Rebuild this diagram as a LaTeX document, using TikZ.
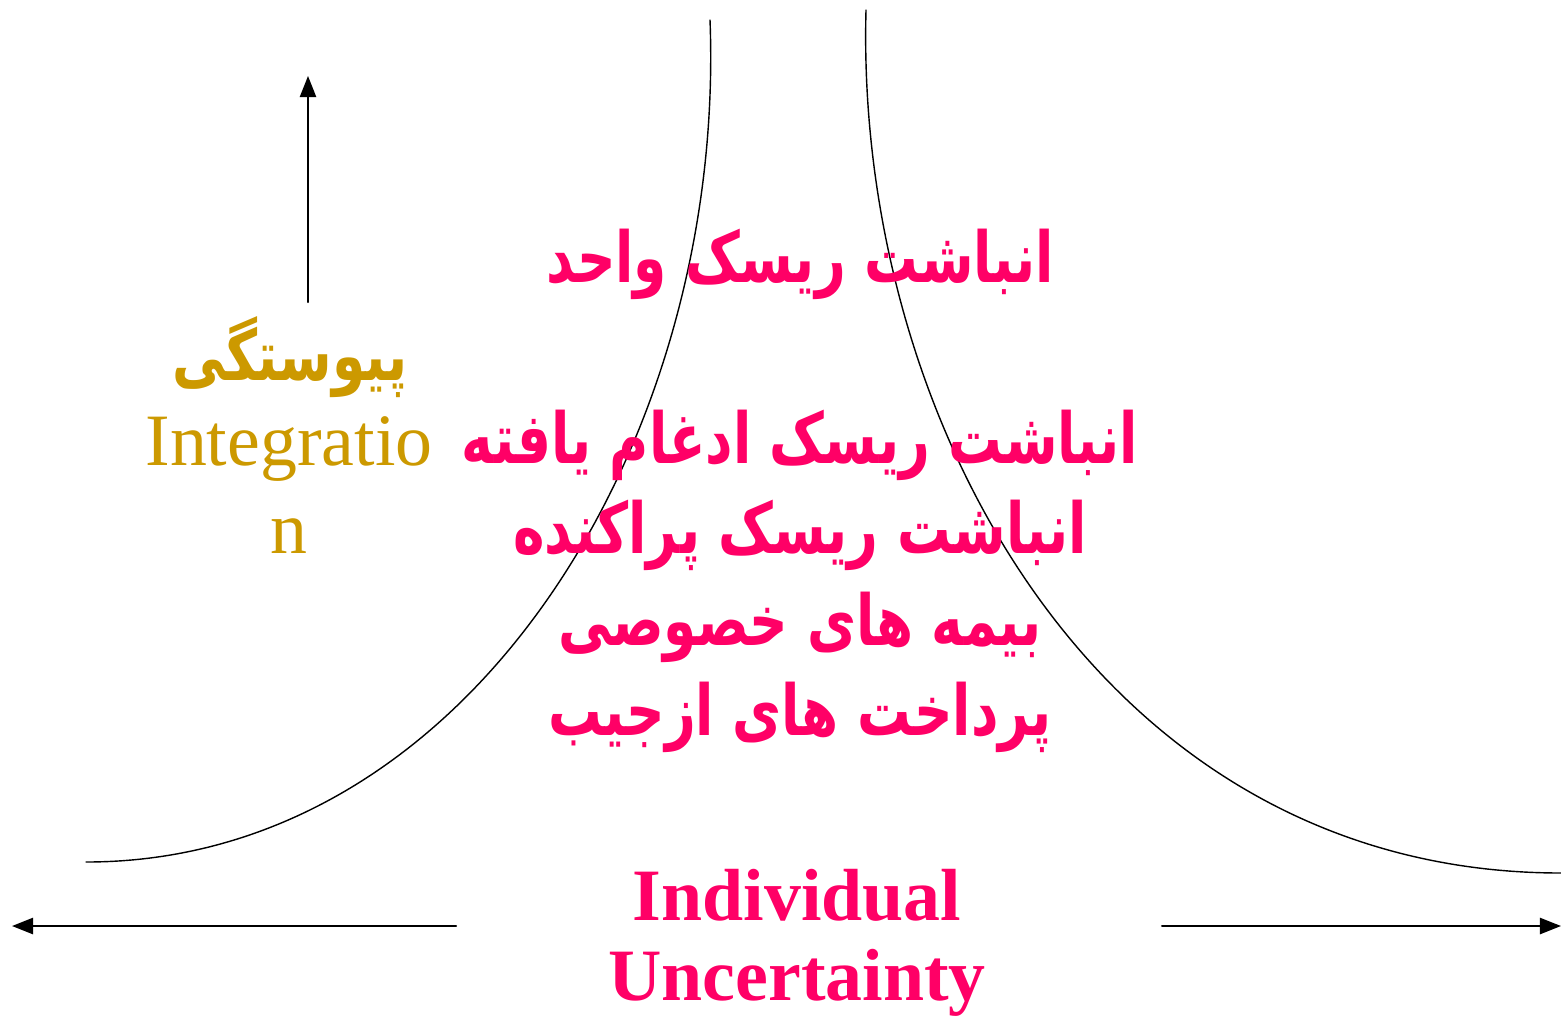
\documentclass[tikz,border=0pt]{standalone}
\usepackage{fontspec}
\setmainfont{Liberation Serif}
\newfontfamily\arabicfont[Script=Arabic,FakeStretch=0.76]{DejaVu Sans}
\TeXXeTstate=1
\usetikzlibrary{arrows.meta}
\definecolor{riskpink}{HTML}{FF0066}
\definecolor{integold}{HTML}{CC9900}
\tikzset{
  farsi/.style={text=riskpink,font=\arabicfont\bfseries\fontsize{20}{24}\selectfont,inner sep=0pt},
  latinpink/.style={text=riskpink,font=\bfseries\fontsize{21}{23}\selectfont,inner sep=0pt,anchor=base},
  latingold/.style={text=integold,font=\fontsize{21}{25}\selectfont,inner sep=0pt,anchor=base},
  axisline/.style={line width=0.6pt,-{Triangle[length=6pt,width=4.6pt]}},
}
\begin{document}
\begin{tikzpicture}[line cap=round,line join=round,x=0.01cm,y=-0.01cm]
  \useasboundingbox (0,0) rectangle (1561,1015);
  % the two branches
  \draw [line width=0.4pt] (710,20) .. controls (726,440) and (470,862) .. (86,862);
  \draw [line width=0.4pt] (866,10) .. controls (855,420) and (1100,873) .. (1561,873);
  % stacked labels
  \node[farsi] (single) at (800,264) {\arabicfont\beginR انباشت ریسک واحد\endR};
  \node[farsi] (merged) at (800,445) {\arabicfont\beginR انباشت ریسک ادغام یافته\endR};
  \node[farsi] (scattered) at (800,535) {\arabicfont\beginR انباشت ریسک پراکنده\endR};
  \node[farsi] (private) at (800,627) {\arabicfont\beginR بیمه های خصوصی\endR};
  \node[farsi] (pocket) at (800,717) {\arabicfont\beginR پرداخت های ازجیب\endR};
  % vertical axis
  \node[farsi,text=integold] (integfa) at (290,357) {\arabicfont\beginR پیوستگی\endR};
  \node[latingold] (integen) at (289,465) {Integratio};
  \node[latingold] (integn) at (289,553) {n};
  \coordinate (vtop) at (308,76);
  \coordinate (vbot) at (308,302);
  \draw [axisline] (vbot) -- (vtop);
  % horizontal axis
  \node[latinpink] (indiv) at (797,920) {Individual};
  \node[latinpink] (uncert) at (797,1000) {Uncertainty};
  \coordinate (hleft) at (12,926);
  \coordinate (hlin) at (456,926);
  \coordinate (hrin) at (1162,926);
  \coordinate (hright) at (1561,926);
  \draw [axisline] (hlin) -- (hleft);
  \draw [axisline] (hrin) -- (hright);
\end{tikzpicture}
\end{document}
